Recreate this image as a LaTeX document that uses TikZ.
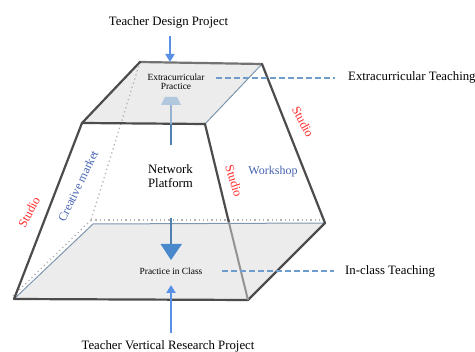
\documentclass[tikz,border=0pt]{standalone}
\usepackage{fontspec}
\setmainfont{Liberation Serif}
\usetikzlibrary{arrows.meta}
\definecolor{edgedark}{HTML}{4C4C4C}
\definecolor{facegray}{HTML}{ECECEC}
\definecolor{faceline}{HTML}{7E96B0}
\definecolor{arrblue}{HTML}{5A8FE6}
\definecolor{shaftblue}{HTML}{4F80B0}
\definecolor{headlight}{HTML}{B2C8DF}
\definecolor{headdark}{HTML}{4A88CC}
\definecolor{dashblue}{HTML}{6E9CCC}
\definecolor{lblred}{HTML}{FF2A2A}
\definecolor{lblblue}{HTML}{4563B0}
\definecolor{dotgray}{HTML}{B4B4B4}
\begin{document}
\begin{tikzpicture}[x=1pt,y=-1pt,
  big/.style={font=\fontsize{12.8}{14}\selectfont, inner sep=0pt},
  small/.style={font=\fontsize{9.4}{9}\selectfont, align=center, inner sep=0pt},
  redlbl/.style={font=\fontsize{12.5}{14}\selectfont, text=lblred, inner sep=0pt},
  bluelbl/.style={font=\fontsize{12}{14}\selectfont, text=lblblue, inner sep=0pt},
  thickedge/.style={draw=edgedark, line width=2.2pt, line cap=round, line join=round},
  thinedge/.style={draw=faceline, line width=1pt},
  hidden/.style={draw=dotgray, line width=1.3pt, dash pattern=on 1.3pt off 3pt},
  bluearrow/.style={draw=arrblue, line width=2pt, -{Triangle[length=8pt,width=9pt]}},
  dashline/.style={draw=dashblue, line width=1.5pt, dash pattern=on 6pt off 3pt}
]
\useasboundingbox (0,0) rectangle (475,352);
% corners
\coordinate (TBL) at (140,62);
\coordinate (TBR) at (262,64);
\coordinate (TFR) at (205,124);
\coordinate (TFL) at (82,123);
\coordinate (BBL) at (93,224);
\coordinate (BBR) at (325,223);
\coordinate (BFR) at (248,300);
\coordinate (BFL) at (14,299);
\coordinate (HBL) at (91,220);
\coordinate (HBR) at (325,220);
\coordinate (HFL) at (12,297);
\coordinate (FRmid) at (228.8,222);
% faces
\fill[facegray] (TBL) -- (TBR) -- (TFR) -- (TFL) -- cycle;
\fill[facegray] (BBL) -- (BBR) -- (BFR) -- (BFL) -- cycle;
% hidden edges
\draw[hidden] (TBL) -- (HBL);
\draw[hidden] (HBL) -- (HBR);
\draw[hidden] (HBL) -- (HFL);
% thin face outlines
\draw[thinedge] (BFL) -- (BBL) -- (BBR);
\draw[thinedge] (TBR) -- (TFR);
% thick edges
\draw[thickedge, draw=gray!90!black] (TBL) -- (TBR);
\draw[thickedge] (TFR) -- (TFL) -- (TBL);
\draw[thickedge] (TFL) -- (BFL) -- (BFR) -- (BBR) -- (TBR);
\draw[thickedge] (TFR) -- (FRmid);
\draw[draw=gray!85, line width=2pt] (FRmid) -- (BFR);
% texts
\node[big] (tdp) at (168.5,22) {Teacher Design Project};
\node[big] (tvr) at (168,346) {Teacher Vertical Research Project};
\node[small] (ecp) at (176,81.5) {Extracurricular\\Practice};
\node[small] (pic) at (171,271.5) {Practice in Class};
\node[big, align=center, font=\fontsize{12.8}{14}\selectfont] (np) at (170.5,176) {Network\\Platform};
\node[big, anchor=west] (ect) at (348,77.5) {Extracurricular Teaching};
\node[big, anchor=west] (ict) at (345,271.5) {In-class Teaching};
\node[redlbl, rotate=62] (s1) at (29,212) {Studio};
\node[bluelbl, rotate=64] (cm) at (78,186) {Creative market};
\node[redlbl, rotate=-73] (s2) at (234,181) {Studio};
\node[redlbl, rotate=-62] (s3) at (303,122) {Studio};
\node[bluelbl] (ws) at (273,172) {Workshop};
% outer arrows
\coordinate (tdpA) at (170,36);
\coordinate (tdpB) at (170,62);
\draw[bluearrow] (tdpA) -- (tdpB);
\coordinate (tvrA) at (171,333);
\coordinate (tvrB) at (171,285);
\draw[bluearrow] (tvrA) -- (tvrB);
% inner arrows
\coordinate (upA) at (171,145);
\coordinate (upM) at (171,124);
\coordinate (upB) at (171,105);
\draw[shaftblue, line width=1.6pt] (upA) -- (upM);
\draw[shaftblue!60, line width=1.6pt] (upM) -- (upB);
\fill[headlight] (161,105) -- (165,97) -- (177,97) -- (181,105) -- cycle;
\coordinate (dnA) at (171,218);
\coordinate (dnB) at (171,244);
\draw[shaftblue, line width=1.6pt] (dnA) -- (dnB);
\fill[headdark] (160.5,244) -- (182,244) -- (171,260) -- cycle;
% dashed leaders
\coordinate (ecL) at (216,78);
\coordinate (ecR) at (335,78);
\draw[dashline] (ecL) -- (ecR);
\coordinate (icL) at (222,271);
\coordinate (icR) at (334,271);
\draw[dashline] (icL) -- (icR);
\end{tikzpicture}
\end{document}
